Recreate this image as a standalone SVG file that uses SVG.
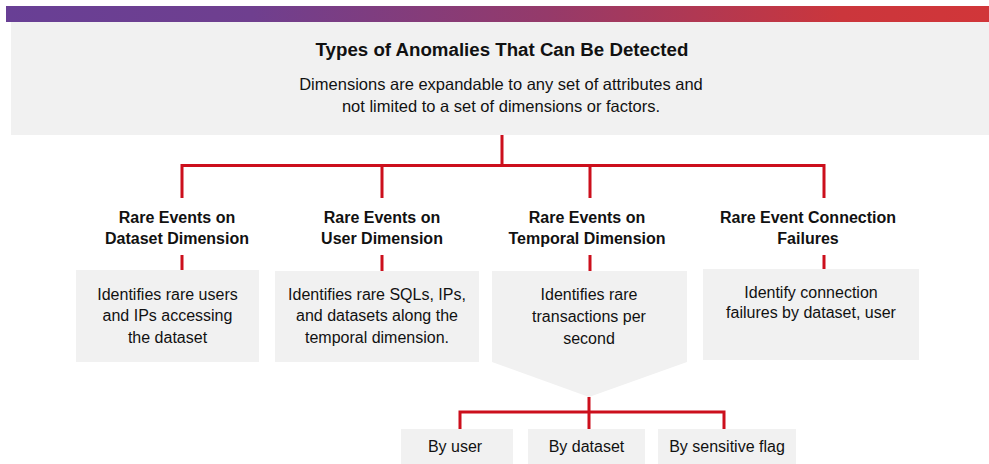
<svg xmlns="http://www.w3.org/2000/svg" width="989" height="464" viewBox="0 0 989 464">
<defs>
<linearGradient id="bar" x1="0" y1="0" x2="1" y2="0">
<stop offset="0" stop-color="#683f95"/>
<stop offset="0.25" stop-color="#6f3f8f"/>
<stop offset="0.55" stop-color="#953a6a"/>
<stop offset="0.85" stop-color="#cb363c"/>
<stop offset="1" stop-color="#d13639"/>
</linearGradient>
<style>
.box{fill:#f1f1f1}
.ln{fill:none;stroke:#cc0f1c;stroke-width:3}
.t{font-family:"Liberation Sans",Arial,sans-serif;fill:#111111;text-anchor:middle}
.h{font-weight:bold;font-size:16px}
.b{font-size:16px}
</style>
</defs>
<rect x="6" y="6" width="983" height="16" fill="url(#bar)"/>
<g id="header">
<rect class="box" x="11" y="22" width="978" height="113"/>
<text class="t" x="502" y="56" font-weight="bold" font-size="18.7">Types of Anomalies That Can Be Detected</text>
<text class="t" x="501" y="90" font-size="16.5">Dimensions are expandable to any set of attributes and</text>
<text class="t" x="501" y="112" font-size="16.5">not limited to a set of dimensions or factors.</text>
</g>
<g id="connectors">
<path class="ln" d="M502 135V166M182 198V165.5H824V198M382 165.5V198M590 165.5V198"/>
<path class="ln" d="M182 255V270M382 255V271M590 255V271M824 255V269"/>
<path class="ln" d="M589 397V429M460 429V412H724V429"/>
</g>
<g id="dataset">
<text class="t h" x="177" y="223">Rare Events on</text>
<text class="t h" x="177" y="244">Dataset Dimension</text>
<rect class="box" x="76" y="270" width="183" height="92"/>
<text class="t b" x="167.5" y="300">Identifies rare users</text>
<text class="t b" x="167.5" y="321">and IPs accessing</text>
<text class="t b" x="167.5" y="343">the dataset</text>
</g>
<g id="user">
<text class="t h" x="382" y="223">Rare Events on</text>
<text class="t h" x="382" y="244">User Dimension</text>
<rect class="box" x="275" y="271" width="204" height="91"/>
<text class="t b" x="377" y="300">Identifies rare SQLs, IPs,</text>
<text class="t b" x="377" y="321">and datasets along the</text>
<text class="t b" x="377" y="343">temporal dimension.</text>
</g>
<g id="temporal">
<text class="t h" x="587" y="223">Rare Events on</text>
<text class="t h" x="587" y="244">Temporal Dimension</text>
<path class="box" d="M492 271H687V362L589 397L492 362Z"/>
<text class="t b" x="589" y="300">Identifies rare</text>
<text class="t b" x="589" y="322">transactions per</text>
<text class="t b" x="589" y="344">second</text>
</g>
<g id="connection">
<text class="t h" x="808" y="223">Rare Event Connection</text>
<text class="t h" x="808" y="244">Failures</text>
<rect class="box" x="703" y="269" width="216" height="91"/>
<text class="t b" x="811" y="298">Identify connection</text>
<text class="t b" x="811" y="318">failures by dataset, user</text>
</g>
<g id="byuser">
<rect class="box" x="401" y="429" width="112" height="35"/>
<text class="t b" x="455" y="452">By user</text>
</g>
<g id="bydataset">
<rect class="box" x="528" y="429" width="117" height="35"/>
<text class="t b" x="586.5" y="452">By dataset</text>
</g>
<g id="byflag">
<rect class="box" x="658" y="429" width="138" height="35"/>
<text class="t b" x="727" y="452">By sensitive flag</text>
</g>
</svg>
